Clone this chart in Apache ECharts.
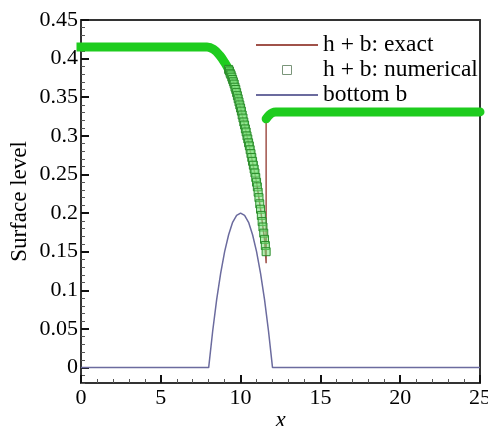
<!DOCTYPE html>
<html>
<head>
<meta charset="utf-8">
<script src="https://cdn.jsdelivr.net/npm/echarts@6/dist/echarts.min.js"></script>
<style>
  html, body { margin: 0; padding: 0; background: #fff; }
  #chart { width: 488px; height: 426px; }
</style>
</head>
<body>
<div id="chart"></div>
<script>
// exact solution h + b
var exactX = [0, 8, 8.5, 9, 9.5, 10, 10.5, 11, 11.25, 11.5, 11.6, 11.6, 11.8, 12, 25];
var exactY = [0.415, 0.415, 0.409, 0.396, 0.373, 0.336, 0.291, 0.240, 0.205, 0.166, 0.135, 0.322, 0.327, 0.330, 0.331];

// numerical h + b, dense solid parts (upstream / downstream)
var bandUpX = [0, 7.9, 8.3, 8.7, 9.0, 9.3];
var bandUpY = [0.415, 0.415, 0.412, 0.404, 0.395, 0.384];
var bandDnX = [11.6, 11.8, 12.0, 12.2, 25];
var bandDnY = [0.322, 0.327, 0.330, 0.331, 0.331];

// numerical h + b, single cells along the drop
var numX = [9.25, 9.3, 9.35, 9.4, 9.45, 9.5, 9.55, 9.6, 9.65, 9.7, 9.75, 9.8, 9.85, 9.9, 9.95,
            10, 10.05, 10.1, 10.15, 10.2, 10.25, 10.3, 10.35, 10.4, 10.45, 10.5, 10.55, 10.6, 10.65,
            10.7, 10.75, 10.8, 10.85, 10.9, 10.95, 11, 11.05, 11.1, 11.15, 11.2, 11.25, 11.3, 11.35,
            11.4, 11.45, 11.5, 11.55, 11.6];
var numY = [0.386, 0.384, 0.381, 0.379, 0.376, 0.373, 0.370, 0.367, 0.363, 0.360, 0.356, 0.352, 0.348, 0.344, 0.340,
            0.336, 0.332, 0.327, 0.323, 0.318, 0.314, 0.309, 0.305, 0.300, 0.296, 0.291, 0.287, 0.282, 0.277,
            0.272, 0.267, 0.262, 0.257, 0.252, 0.246, 0.240, 0.234, 0.227, 0.220, 0.212, 0.205, 0.197, 0.189,
            0.182, 0.174, 0.166, 0.158, 0.150];

// bottom b
var bX = [0, 8, 8.25, 8.5, 8.75, 9, 9.25, 9.5, 9.75, 10, 10.25, 10.5, 10.75, 11, 11.25, 11.5, 11.75, 12, 25];
var bY = [0, 0, 0.047, 0.088, 0.122, 0.15, 0.172, 0.188, 0.197, 0.2, 0.197, 0.188, 0.172, 0.15, 0.122, 0.088, 0.047, 0, 0];

var yLabels = [0, 0.05, 0.1, 0.15, 0.2, 0.25, 0.3, 0.35, 0.4, 0.45];

function pairs(xs, ys) {
    var out = [];
    for (var i = 0; i < xs.length; i++) out.push([xs[i], ys[i]]);
    return out;
}

var font = 'Liberation Serif';
var axisColor = '#333';
var green = '#1ecc1e';
var noSymbol = { color: 'rgba(0,0,0,0)', borderColor: 'rgba(0,0,0,0)', borderWidth: 0 };

var myChart = echarts.init(document.getElementById('chart'));
var option = {
    backgroundColor: '#fff',
    animation: false,
    grid: {
        left: 81, right: 8, top: 20, bottom: 43,
        outerBoundsMode: 'none'
    },
    legend: {
        orient: 'vertical',
        left: 255,
        top: 33,
        padding: 0,
        itemWidth: 62,
        itemHeight: 9,
        itemGap: 1,
        itemTextGap: 2,
        textStyle: { fontFamily: font, fontSize: 23.5, lineHeight: 22.5, color: '#000' },
        data: [
            { name: 'h + b: exact', itemStyle: noSymbol },
            { name: 'h + b: numerical', icon: 'path://M0,0h10v10h-10z',
              itemStyle: { color: '#fff', borderColor: '#7a957a', borderWidth: 1 } },
            { name: 'bottom b', itemStyle: noSymbol }
        ]
    },
    xAxis: [{
        type: 'value',
        min: 0, max: 25, interval: 5,
        name: 'x',
        nameLocation: 'middle',
        nameGap: 26,
        nameMoveOverlap: false,
        nameTextStyle: { fontFamily: font, fontSize: 23, fontStyle: 'italic', color: '#000' },
        axisLine: { show: true, onZero: false, lineStyle: { color: axisColor, width: 2 } },
        axisTick: { show: true, inside: true, length: 8, lineStyle: { color: '#111', width: 2 } },
        minorTick: { show: true, splitNumber: 5, length: 4, lineStyle: { color: '#555', width: 1 } },
        axisLabel: { fontFamily: font, fontSize: 22, color: '#000', margin: 4 },
        splitLine: { show: false }
    }, {
        type: 'value',
        position: 'top',
        min: 0, max: 25,
        axisLine: { show: true, onZero: false, lineStyle: { color: axisColor, width: 2 } },
        axisTick: { show: false },
        axisLabel: { show: false },
        splitLine: { show: false }
    }],
    yAxis: [{
        type: 'value',
        min: -0.02, max: 0.45, interval: 0.01,
        axisLine: { show: true, onZero: false, lineStyle: { color: axisColor, width: 2 } },
        axisTick: { show: true, inside: true, length: 4, lineStyle: { color: '#555', width: 1 } },
        axisLabel: { show: false },
        splitLine: { show: false }
    }, {
        type: 'value',
        position: 'left',
        min: -0.02, max: 0.45,
        name: 'Surface level',
        nameLocation: 'middle',
        nameGap: 50,
        nameMoveOverlap: false,
        nameTextStyle: { fontFamily: font, fontSize: 23, color: '#000' },
        axisLine: { show: false, onZero: false },
        axisTick: { show: true, inside: true, length: 8, customValues: yLabels, lineStyle: { color: '#111', width: 2 } },
        axisLabel: { fontFamily: font, fontSize: 22, color: '#000', margin: 3, customValues: yLabels },
        splitLine: { show: false }
    }, {
        type: 'value',
        position: 'right',
        min: -0.02, max: 0.45,
        axisLine: { show: true, onZero: false, lineStyle: { color: axisColor, width: 2 } },
        axisTick: { show: false },
        axisLabel: { show: false },
        splitLine: { show: false }
    }],
    series: [
        {
            name: 'bottom b',
            type: 'line',
            data: pairs(bX, bY),
            symbol: 'none',
            lineStyle: { color: '#6b6b9e', width: 1.5 },
            itemStyle: { color: '#6b6b9e' },
            z: 2
        },
        {
            name: 'h + b: exact',
            type: 'line',
            data: pairs(exactX, exactY),
            symbol: 'none',
            lineStyle: { color: '#a0524a', width: 1.5 },
            itemStyle: { color: '#a0524a' },
            z: 3
        },
        {
            name: 'num-band-up',
            type: 'line',
            data: pairs(bandUpX, bandUpY),
            symbol: 'none',
            smooth: 0.4,
            clip: false,
            lineStyle: { color: green, width: 9, cap: 'square' },
            z: 4
        },
        {
            name: 'num-band-down',
            type: 'line',
            data: pairs(bandDnX, bandDnY),
            symbol: 'none',
            smooth: 0.4,
            clip: false,
            lineStyle: { color: green, width: 9, cap: 'round' },
            z: 4
        },
        {
            name: 'h + b: numerical',
            type: 'scatter',
            data: pairs(numX, numY),
            symbol: 'rect',
            symbolSize: 8,
            itemStyle: { color: 'rgba(120,225,120,0.55)', borderColor: '#2a8c2a', borderWidth: 1, opacity: 1 },
            z: 5
        }
    ]
};
myChart.setOption(option);
</script>
</body>
</html>
